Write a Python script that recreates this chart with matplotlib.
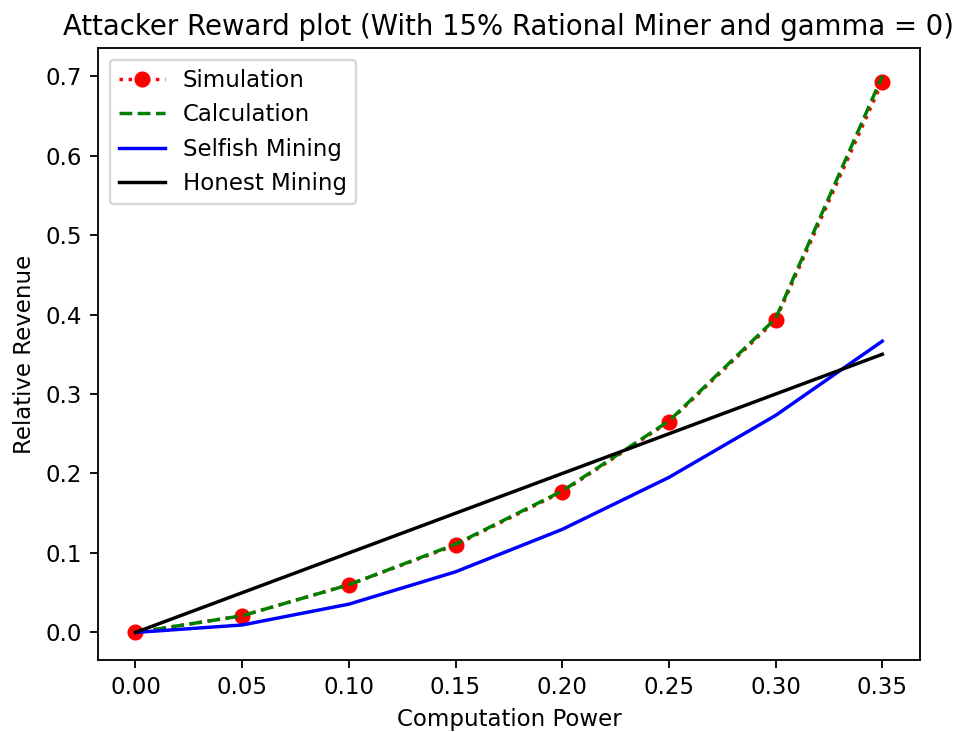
import matplotlib
matplotlib.use("Agg")
import matplotlib.pyplot as plt

power = [0.00, 0.05, 0.10, 0.15, 0.20, 0.25, 0.30, 0.35]
simulation = [0.000, 0.021, 0.060, 0.110, 0.177, 0.265, 0.393, 0.693]
calculation = [0.000, 0.021, 0.060, 0.111, 0.178, 0.266, 0.395, 0.700]
selfish = [0.000, 0.0094, 0.0356, 0.0763, 0.1297, 0.1951, 0.2731, 0.3665]
honest = [0.00, 0.05, 0.10, 0.15, 0.20, 0.25, 0.30, 0.35]

DPI = 165
fig = plt.figure(figsize=(953 / DPI, 732 / DPI), dpi=DPI)
ax = fig.add_axes([0.103, 0.098, 0.862, 0.836])

ax.plot(power, simulation, "ro:", label="Simulation")
ax.plot(power, calculation, "g--", label="Calculation")
ax.plot(power, selfish, "b-", label="Selfish Mining")
ax.plot(power, honest, "k-", label="Honest Mining")

ax.set_title("Attacker Reward plot (With 15% Rational Miner and gamma = 0)")
ax.set_xlabel("Computation Power")
ax.set_ylabel("Relative Revenue")
ax.legend(loc="upper left")

fig.savefig("out.png", dpi=DPI)
